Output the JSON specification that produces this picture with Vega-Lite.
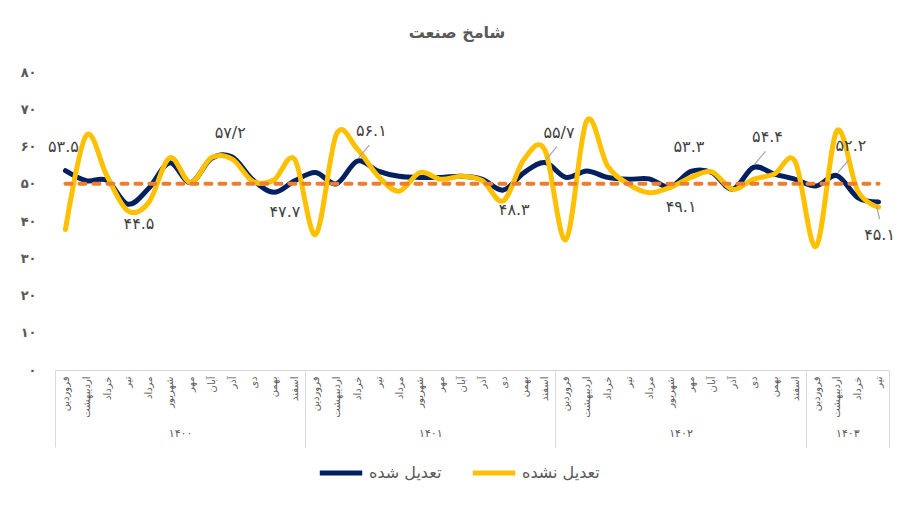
{
  "$schema": "https://vega.github.io/schema/vega-lite/v6.json",
  "width": 834,
  "height": 298,
  "autosize": {"type": "none"},
  "padding": {"left": 55, "top": 72, "right": 26, "bottom": 144},
  "background": "white",
  "config": {"view": {"stroke": null}, "font": "DejaVu Sans"},
  "title": {"text": "شامخ صنعت", "fontSize": 16, "fontWeight": "bold", "color": "#595959", "offset": 25, "dx": -15, "font": "DejaVu Sans"},
  "datasets": {
    "pmi": [
      {"key": "فروردین|1400", "series": "تعدیل شده", "value": 53.5, "label": "۵۳.۵", "extreme": "peak"},
      {"key": "اردیبهشت|1400", "series": "تعدیل شده", "value": 50.8},
      {"key": "خرداد|1400", "series": "تعدیل شده", "value": 50.9},
      {"key": "تیر|1400", "series": "تعدیل شده", "value": 44.5, "label": "۴۴.۵", "extreme": "trough"},
      {"key": "مرداد|1400", "series": "تعدیل شده", "value": 48.8},
      {"key": "شهریور|1400", "series": "تعدیل شده", "value": 55.6},
      {"key": "مهر|1400", "series": "تعدیل شده", "value": 50.3},
      {"key": "آبان|1400", "series": "تعدیل شده", "value": 56.8},
      {"key": "آذر|1400", "series": "تعدیل شده", "value": 57.2, "label": "۵۷/۲", "extreme": "peak"},
      {"key": "دی|1400", "series": "تعدیل شده", "value": 51.0},
      {"key": "بهمن|1400", "series": "تعدیل شده", "value": 47.7, "label": "۴۷.۷", "extreme": "trough"},
      {"key": "اسفند|1400", "series": "تعدیل شده", "value": 50.8},
      {"key": "فروردین|1401", "series": "تعدیل شده", "value": 53.0},
      {"key": "اردیبهشت|1401", "series": "تعدیل شده", "value": 50.0},
      {"key": "خرداد|1401", "series": "تعدیل شده", "value": 56.1, "label": "۵۶.۱", "extreme": "peak", "leader": true},
      {"key": "تیر|1401", "series": "تعدیل شده", "value": 53.4},
      {"key": "مرداد|1401", "series": "تعدیل شده", "value": 52.0},
      {"key": "شهریور|1401", "series": "تعدیل شده", "value": 51.7},
      {"key": "مهر|1401", "series": "تعدیل شده", "value": 51.7},
      {"key": "آبان|1401", "series": "تعدیل شده", "value": 52.0},
      {"key": "آذر|1401", "series": "تعدیل شده", "value": 51.2},
      {"key": "دی|1401", "series": "تعدیل شده", "value": 48.3, "label": "۴۸.۳", "extreme": "trough"},
      {"key": "بهمن|1401", "series": "تعدیل شده", "value": 53.0},
      {"key": "اسفند|1401", "series": "تعدیل شده", "value": 55.7, "label": "۵۵/۷", "extreme": "peak", "leader": true},
      {"key": "فروردین|1402", "series": "تعدیل شده", "value": 51.7},
      {"key": "اردیبهشت|1402", "series": "تعدیل شده", "value": 53.4},
      {"key": "خرداد|1402", "series": "تعدیل شده", "value": 51.7},
      {"key": "تیر|1402", "series": "تعدیل شده", "value": 51.2},
      {"key": "مرداد|1402", "series": "تعدیل شده", "value": 51.3},
      {"key": "شهریور|1402", "series": "تعدیل شده", "value": 49.1, "label": "۴۹.۱", "extreme": "trough"},
      {"key": "مهر|1402", "series": "تعدیل شده", "value": 53.3, "label": "۵۳.۳", "extreme": "peak"},
      {"key": "آبان|1402", "series": "تعدیل شده", "value": 53.0},
      {"key": "آذر|1402", "series": "تعدیل شده", "value": 48.5},
      {"key": "دی|1402", "series": "تعدیل شده", "value": 54.4, "label": "۵۴.۴", "extreme": "peak", "leader": true},
      {"key": "بهمن|1402", "series": "تعدیل شده", "value": 52.6},
      {"key": "اسفند|1402", "series": "تعدیل شده", "value": 51.2},
      {"key": "فروردین|1403", "series": "تعدیل شده", "value": 49.4},
      {"key": "اردیبهشت|1403", "series": "تعدیل شده", "value": 52.2, "label": "۵۲.۲", "extreme": "peak", "leader": true},
      {"key": "خرداد|1403", "series": "تعدیل شده", "value": 46.3},
      {"key": "تیر|1403", "series": "تعدیل شده", "value": 45.1, "label": "۴۵.۱", "extreme": "trough", "leader": true},
      {"key": "فروردین|1400", "series": "تعدیل نشده", "value": 37.7},
      {"key": "اردیبهشت|1400", "series": "تعدیل نشده", "value": 63.0},
      {"key": "خرداد|1400", "series": "تعدیل نشده", "value": 52.0},
      {"key": "تیر|1400", "series": "تعدیل نشده", "value": 42.7},
      {"key": "مرداد|1400", "series": "تعدیل نشده", "value": 45.0},
      {"key": "شهریور|1400", "series": "تعدیل نشده", "value": 57.0},
      {"key": "مهر|1400", "series": "تعدیل نشده", "value": 50.3},
      {"key": "آبان|1400", "series": "تعدیل نشده", "value": 57.0},
      {"key": "آذر|1400", "series": "تعدیل نشده", "value": 56.6},
      {"key": "دی|1400", "series": "تعدیل نشده", "value": 50.6},
      {"key": "بهمن|1400", "series": "تعدیل نشده", "value": 51.0},
      {"key": "اسفند|1400", "series": "تعدیل نشده", "value": 56.5},
      {"key": "فروردین|1401", "series": "تعدیل نشده", "value": 36.4},
      {"key": "اردیبهشت|1401", "series": "تعدیل نشده", "value": 63.3},
      {"key": "خرداد|1401", "series": "تعدیل نشده", "value": 59.3},
      {"key": "تیر|1401", "series": "تعدیل نشده", "value": 52.0},
      {"key": "مرداد|1401", "series": "تعدیل نشده", "value": 48.0},
      {"key": "شهریور|1401", "series": "تعدیل نشده", "value": 53.0},
      {"key": "مهر|1401", "series": "تعدیل نشده", "value": 51.2},
      {"key": "آبان|1401", "series": "تعدیل نشده", "value": 52.0},
      {"key": "آذر|1401", "series": "تعدیل نشده", "value": 50.8},
      {"key": "دی|1401", "series": "تعدیل نشده", "value": 45.4},
      {"key": "بهمن|1401", "series": "تعدیل نشده", "value": 56.6},
      {"key": "اسفند|1401", "series": "تعدیل نشده", "value": 59.0},
      {"key": "فروردین|1402", "series": "تعدیل نشده", "value": 35.0},
      {"key": "اردیبهشت|1402", "series": "تعدیل نشده", "value": 66.9},
      {"key": "خرداد|1402", "series": "تعدیل نشده", "value": 54.8},
      {"key": "تیر|1402", "series": "تعدیل نشده", "value": 49.9},
      {"key": "مرداد|1402", "series": "تعدیل نشده", "value": 47.6},
      {"key": "شهریور|1402", "series": "تعدیل نشده", "value": 49.0},
      {"key": "مهر|1402", "series": "تعدیل نشده", "value": 51.7},
      {"key": "آبان|1402", "series": "تعدیل نشده", "value": 53.2},
      {"key": "آذر|1402", "series": "تعدیل نشده", "value": 48.5},
      {"key": "دی|1402", "series": "تعدیل نشده", "value": 51.2},
      {"key": "بهمن|1402", "series": "تعدیل نشده", "value": 52.6},
      {"key": "اسفند|1402", "series": "تعدیل نشده", "value": 56.0},
      {"key": "فروردین|1403", "series": "تعدیل نشده", "value": 33.2},
      {"key": "اردیبهشت|1403", "series": "تعدیل نشده", "value": 64.2},
      {"key": "خرداد|1403", "series": "تعدیل نشده", "value": 48.1},
      {"key": "تیر|1403", "series": "تعدیل نشده", "value": 43.7}
    ],
    "years": [
      {"year": "۱۴۰۰", "start": 0},
      {"year": "۱۴۰۱", "start": 12},
      {"year": "۱۴۰۲", "start": 24},
      {"year": "۱۴۰۳", "start": 36}
    ]
  },
  "layer": [
    {
      "data": {"name": "pmi"},
      "encoding": {
        "x": {
          "field": "key", "type": "ordinal", "sort": null,
          "scale": {"type": "point", "padding": 0.5},
          "axis": {"title": null, "labelAngle": -90, "labelExpr": "split(datum.value,'|')[0]", "labelFontSize": 10, "labelColor": "#595959", "labelFont": "DejaVu Sans", "ticks": false, "domainColor": "#d9d9d9", "domainWidth": 1, "labelPadding": 6}
        },
        "y": {
          "field": "value", "type": "quantitative",
          "scale": {"domain": [0, 80], "nice": false},
          "axis": {"title": null, "values": [0, 10, 20, 30, 40, 50, 60, 70, 80], "grid": false, "domain": false, "ticks": false, "labelPadding": 19, "labelFontSize": 13, "labelFontWeight": "bold", "labelColor": "#595959", "labelFont": "DejaVu Sans",
            "labelExpr": "replace(replace(replace(replace(replace(replace(replace(replace(replace(datum.label,'0','۰'),'1','۱'),'2','۲'),'3','۳'),'4','۴'),'5','۵'),'6','۶'),'7','۷'),'8','۸')"}
        }
      },
      "layer": [
        {
          "mark": {"type": "line", "interpolate": "cardinal", "strokeWidth": 5, "strokeCap": "round"},
          "encoding": {
            "color": {
              "field": "series", "type": "nominal",
              "scale": {"domain": ["تعدیل شده", "تعدیل نشده"], "range": ["#002060", "#FFC000"]},
              "legend": {"title": null, "orient": "none", "legendX": 262, "legendY": 377, "direction": "horizontal", "symbolType": "stroke", "symbolSize": 1800, "symbolStrokeWidth": 5, "labelFontSize": 16, "labelColor": "#595959", "labelFont": "DejaVu Sans", "columnPadding": 20, "labelOffset": 4}
            }
          }
        },
        {
          "transform": [{"filter": "datum.series == 'تعدیل شده'"}],
          "mark": {"type": "line", "color": "#ED7D31", "strokeWidth": 4, "strokeDash": [6, 8], "strokeCap": "round"},
          "encoding": {"y": {"datum": 50}}
        },
        {
          "transform": [{"filter": "datum.extreme == 'peak' && datum.leader == true"}],
          "mark": {"type": "rule", "color": "#a6a6a6", "strokeWidth": 1.2, "xOffset": 1, "yOffset": -3, "x2Offset": 12, "y2Offset": -16},
          "encoding": {"x2": {"field": "key"}, "y2": {"field": "value"}}
        },
        {
          "transform": [{"filter": "datum.extreme == 'trough' && datum.leader == true"}],
          "mark": {"type": "rule", "color": "#a6a6a6", "strokeWidth": 1.2, "xOffset": -2, "yOffset": 4, "x2Offset": 1, "y2Offset": 17},
          "encoding": {"x2": {"field": "key"}, "y2": {"field": "value"}}
        },
        {
          "transform": [{"filter": "datum.extreme == 'peak' && datum.leader != true"}],
          "mark": {"type": "text", "fontSize": 16, "color": "#404040", "font": "DejaVu Sans", "dx": -2, "dy": -24},
          "encoding": {"text": {"field": "label"}}
        },
        {
          "transform": [{"filter": "datum.extreme == 'peak' && datum.leader == true"}],
          "mark": {"type": "text", "fontSize": 16, "color": "#404040", "font": "DejaVu Sans", "dx": 14, "dy": -30},
          "encoding": {"text": {"field": "label"}}
        },
        {
          "transform": [{"filter": "datum.extreme == 'trough' && datum.leader != true"}],
          "mark": {"type": "text", "fontSize": 16, "color": "#404040", "font": "DejaVu Sans", "dx": 11, "dy": 20},
          "encoding": {"text": {"field": "label"}}
        },
        {
          "transform": [{"filter": "datum.extreme == 'trough' && datum.leader == true"}],
          "mark": {"type": "text", "fontSize": 16, "color": "#404040", "font": "DejaVu Sans", "dx": 1, "dy": 33},
          "encoding": {"text": {"field": "label"}}
        }
      ]
    },
    {
      "data": {"name": "years"},
      "mark": {"type": "rule", "opacity": 0},
      "encoding": {
        "x": {
          "field": "start", "type": "quantitative",
          "scale": {"domain": [0, 40], "nice": false, "zero": false},
          "axis": {"orient": "bottom", "title": null, "values": [0, 6, 12, 18, 24, 30, 36, 38, 40], "domain": false, "grid": false, "tickSize": 77, "tickWidth": 1,
            "tickColor": {"condition": {"test": "datum.value == 0 || datum.value == 12 || datum.value == 24 || datum.value == 36 || datum.value == 40", "value": "#d9d9d9"}, "value": "transparent"},
            "labelExpr": "datum.value == 6 ? '۱۴۰۰' : datum.value == 18 ? '۱۴۰۱' : datum.value == 30 ? '۱۴۰۲' : datum.value == 38 ? '۱۴۰۳' : ''",
            "labelPadding": -20, "labelFontSize": 11, "labelColor": "#595959", "labelFont": "DejaVu Sans", "labelFlush": false, "labelOverlap": false}
        }
      }
    }
  ],
  "resolve": {"scale": {"x": "independent"}, "axis": {"x": "independent"}}
}
